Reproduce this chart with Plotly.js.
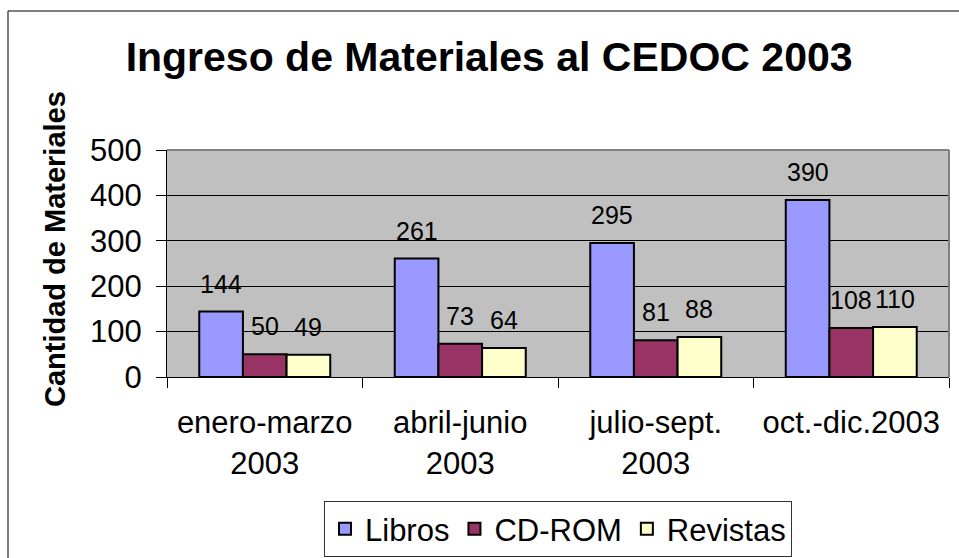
<!DOCTYPE html>
<html>
<head>
<meta charset="utf-8">
<script src="https://cdn.plot.ly/plotly-3.0.1.min.js"></script>
<style>html,body{margin:0;padding:0;background:#fff;}#chart{width:959px;height:558px;}</style>
</head>
<body>
<div id="chart"></div>
<script>
const categories = ["enero-marzo<br>2003", "abril-junio<br>2003", "julio-sept.<br>2003", "oct.-dic.2003"];
const libros = [144, 261, 295, 390];
const cdrom = [50, 73, 81, 108];
const revistas = [49, 64, 88, 110];
const seriesNames = ["Libros", "CD-ROM", "Revistas"];
const seriesColors = ["#9999FF", "#993366", "#FFFFCC"];
const seriesValues = [libros, cdrom, revistas];

const FONT = "Liberation Sans, Arial, sans-serif";

const traces = seriesValues.map((vals, i) => ({
  type: "bar",
  name: seriesNames[i],
  x: categories,
  y: vals,
  marker: {color: seriesColors[i], line: {color: "#000", width: 2}},
  hoverinfo: "none"
}));

const L = 167, R = 10, T = 150, B = 181;
const W = 959, H = 558;
const pw = W - L - R, ph = H - T - B;
const bargap = 0.33;
const barW = (pw / categories.length) * (1 - bargap) / 3;

const annotations = [];
seriesValues.forEach((vals, i) => {
  vals.forEach((v, j) => {
    annotations.push({
      x: categories[j], y: v, xref: "x", yref: "y",
      text: String(v), showarrow: false,
      xshift: (i - 1) * barW, yshift: 28, yanchor: "middle",
      font: {family: FONT, size: 25, color: "#000"}
    });
  });
});
annotations.push({
  text: "<b>Cantidad de Materiales</b>", textangle: -90, showarrow: false,
  xref: "paper", yref: "paper", x: (55 - L) / pw, y: (T + ph - 249) / ph,
  xanchor: "center", yanchor: "middle",
  font: {family: FONT, size: 29, color: "#000"}
});

const layout = {
  width: W, height: H,
  margin: {l: L, r: R, t: T, b: B, pad: 0, autoexpand: false},
  paper_bgcolor: "#fff",
  plot_bgcolor: "#C0C0C0",
  font: {family: FONT, color: "#000"},
  title: {text: "<b>Ingreso de Materiales al CEDOC 2003</b>", font: {family: FONT, size: 41, color: "#000"},
          x: 0.51, xanchor: "center", y: 1 - 57 / H, yanchor: "middle", xref: "container", yref: "container"},
  barmode: "group",
  bargap: bargap,
  bargroupgap: 0,
  showlegend: true,
  legend: {orientation: "h", x: 0.5, xanchor: "center", yref: "container", y: 1 / H, yanchor: "bottom",
           bordercolor: "#333", borderwidth: 1, bgcolor: "#fff",
           font: {family: FONT, size: 31, color: "#000"}, traceorder: "normal"},
  xaxis: {
    type: "category", showline: true, linecolor: "#000", linewidth: 1, automargin: false,
    ticks: "outside", tickson: "boundaries", ticklen: 10, tickcolor: "#000", ticklabelstandoff: 18,
    tickfont: {family: FONT, size: 31, color: "#000"}, showgrid: false, fixedrange: true
  },
  yaxis: {
    range: [0, 500], dtick: 100, showline: true, linecolor: "#000", linewidth: 1, automargin: false,
    ticks: "outside", ticklen: 10, tickcolor: "#000", ticklabelstandoff: 8,
    tickfont: {family: FONT, size: 31, color: "#000"},
    showgrid: true, gridcolor: "#000", gridwidth: 1, zeroline: false,
    fixedrange: true
  },
  shapes: [
    {type: "line", xref: "paper", yref: "paper", x0: 0, x1: 1, y0: 1, y1: 1, line: {color: "#808080", width: 2}, layer: "above"},
    {type: "line", xref: "paper", yref: "paper", x0: 1, x1: 1, y0: 0, y1: 1, line: {color: "#808080", width: 2}, layer: "above"},
    {type: "rect", xref: "paper", yref: "paper", x0: (8 - L) / pw, x1: 2, y0: -3, y1: (T + ph - 11) / ph, line: {color: "#000", width: 1}, layer: "below"}
  ],
  annotations: annotations
};

Plotly.newPlot("chart", traces, layout, {displayModeBar: false, staticPlot: true});
</script>
</body>
</html>
